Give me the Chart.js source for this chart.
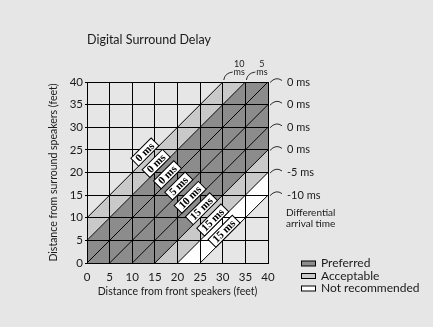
<!DOCTYPE html>
<html>
<head>
<meta charset="utf-8">
<script src="https://cdn.jsdelivr.net/npm/chart.js@4.4.1/dist/chart.umd.min.js"></script>
<style>
  html, body { margin: 0; padding: 0; background: #e6e6e6; }
  #wrap { width: 433px; height: 327px; position: relative; }
</style>
</head>
<body>
<div id="wrap"><canvas id="delayChart"></canvas></div>
<script>
// values
const chartTitle = 'Digital Surround Delay';
const axisTicks = [0, 5, 10, 15, 20, 25, 30, 35, 40];
// diagonal lines: surround distance = front distance + offset (feet)
const diagonalOffsets = [10, 5, 0, -5, -10, -15, -20, -25];
// band between each line and the next one
const bandBelow = ['acceptable', 'preferred', 'preferred', 'preferred', 'preferred', 'acceptable', 'notRecommended', null];
const delayLabels = ['0 ms', '0 ms', '0 ms', '5 ms', '10 ms', '15 ms', '15 ms', '15 ms'];
const topOffsets = [10, 5];
const topLabels = ['10', '5'];
const rightOffsets = [0, -5, -10, -15, -20, -25];
const rightLabels = ['0 ms', '0 ms', '0 ms', '0 ms', '-5 ms', '-10 ms'];
const legendKeys = ['preferred', 'acceptable', 'notRecommended'];
const legendLabels = ['Preferred', 'Acceptable', 'Not recommended'];

const bandColors = { preferred: '#8c8c8c', acceptable: '#c9c9c9', notRecommended: '#ffffff' };
const FONT = 'Lato, "DejaVu Sans", sans-serif';
const INK = '#1a1a1a';
const AXIS_MIN = axisTicks[0];
const AXIS_MAX = axisTicks[axisTicks.length - 1];

function arcLabelsPlugin() {
  return {
    id: 'arcLabels',
    afterDraw(chart) {
      const { ctx, chartArea } = chart;
      const xs = chart.scales.x, ys = chart.scales.y;
      ctx.save();

      // title
      ctx.fillStyle = INK;
      ctx.font = '12.5px ' + FONT;
      ctx.textBaseline = 'middle';
      ctx.textAlign = 'left';
      ctx.fillText(chartTitle, chartArea.left, 40);

      // boxed delay labels along each diagonal
      ctx.font = 'bold 11px "Liberation Serif", serif';
      diagonalOffsets.forEach((c, i) => {
        const s = 37.3;
        const px = xs.getPixelForValue((s - c) / 2);
        const py = ys.getPixelForValue((s + c) / 2);
        const w = ctx.measureText(delayLabels[i]).width + 7;
        const h = 11;
        ctx.save();
        ctx.translate(px, py);
        ctx.rotate(-Math.PI / 4);
        ctx.fillStyle = '#fff';
        ctx.strokeStyle = '#000';
        ctx.lineWidth = 1;
        ctx.fillRect(-w / 2, -h, w, h);
        ctx.strokeRect(-w / 2, -h, w, h);
        ctx.fillStyle = '#000';
        ctx.textAlign = 'center';
        ctx.textBaseline = 'middle';
        ctx.fillText(delayLabels[i], 0, -h / 2 + 0.5);
        ctx.restore();
      });

      ctx.strokeStyle = INK;
      ctx.lineWidth = 0.9;
      // labels at top ends
      topOffsets.forEach((c, i) => {
        const x0 = xs.getPixelForValue(AXIS_MAX - c);
        const y0 = ys.getPixelForValue(AXIS_MAX);
        ctx.beginPath();
        ctx.moveTo(x0 + 1, y0 - 2);
        ctx.quadraticCurveTo(x0 + 2, y0 - 9, x0 + 10, y0 - 10);
        ctx.stroke();
        ctx.fillStyle = INK;
        ctx.textAlign = 'center';
        ctx.textBaseline = 'middle';
        ctx.font = '9px ' + FONT;
        ctx.fillText(topLabels[i], x0 + 16.5, y0 - 18);
        ctx.fillText('ms', x0 + 16.5, y0 - 9.5);
      });

      // labels at right ends
      ctx.font = '11px ' + FONT;
      ctx.textAlign = 'left';
      rightOffsets.forEach((c, i) => {
        const x0 = xs.getPixelForValue(AXIS_MAX);
        const y0 = ys.getPixelForValue(AXIS_MAX + c);
        ctx.beginPath();
        ctx.moveTo(x0 + 2, y0 + 0.5);
        ctx.quadraticCurveTo(x0 + 8, y0 - 6, x0 + 14, y0 - 1.5);
        ctx.stroke();
        ctx.fillText(rightLabels[i], x0 + 19, y0);
      });
      const yLast = ys.getPixelForValue(AXIS_MAX + rightOffsets[rightOffsets.length - 1]);
      ctx.font = '10px ' + FONT;
      ctx.fillText('Differential', chartArea.right + 18, yLast + 18);
      ctx.fillText('arrival time', chartArea.right + 18, yLast + 29);

      // legend
      ctx.font = '12px ' + FONT;
      legendKeys.forEach((k, i) => {
        const y = 263.5 + i * 12.5;
        ctx.fillStyle = bandColors[k];
        ctx.fillRect(301.5, y - 2.5, 14, 5);
        ctx.strokeStyle = '#000';
        ctx.lineWidth = 1;
        ctx.strokeRect(301.5, y - 2.5, 14, 5);
        ctx.fillStyle = INK;
        ctx.fillText(legendLabels[i], 321, y);
      });
      ctx.restore();
    }
  };
}

const lo = AXIS_MIN - 40, hi = AXIS_MAX + 40;
const datasets = diagonalOffsets.map((c, i) => ({
  data: [{ x: lo, y: lo + c }, { x: hi, y: hi + c }],
  borderColor: '#000',
  borderWidth: 1,
  pointRadius: 0,
  fill: bandBelow[i] ? '+1' : false,
  backgroundColor: bandBelow[i] ? bandColors[bandBelow[i]] : 'transparent'
}));

function axis(titleText, isY) {
  return {
    type: 'linear',
    min: AXIS_MIN,
    max: AXIS_MAX,
    afterBuildTicks: s => { s.ticks = axisTicks.map(v => ({ value: v })); },
    afterFit: s => { if (isY) s.width = 87; else s.height = 64; },
    grid: { color: '#000', lineWidth: 1, z: 1, drawTicks: isY, tickLength: 2, tickColor: '#000' },
    border: { color: '#000', width: 1, z: 1 },
    ticks: { color: INK, font: { family: FONT, size: 11.5 }, padding: isY ? 2 : 7 },
    title: {
      display: true,
      text: titleText,
      color: INK,
      font: { family: FONT, size: 10.5 },
      padding: isY ? { top: 47.5, bottom: 0 } : { top: 0, bottom: 29 }
    }
  };
}

new Chart(document.getElementById('delayChart'), {
  type: 'line',
  data: { datasets },
  options: {
    responsive: true,
    maintainAspectRatio: false,
    animation: false,
    events: [],
    layout: { padding: { left: 0, top: 82, right: 165, bottom: 0 } },
    scales: {
      x: axis('Distance from front speakers (feet)', false),
      y: axis('Distance from surround speakers (feet)', true)
    },
    plugins: {
      legend: { display: false },
      tooltip: { enabled: false },
      filler: { drawTime: 'beforeDatasetsDraw' }
    }
  },
  plugins: [arcLabelsPlugin()]
});
</script>
</body>
</html>
